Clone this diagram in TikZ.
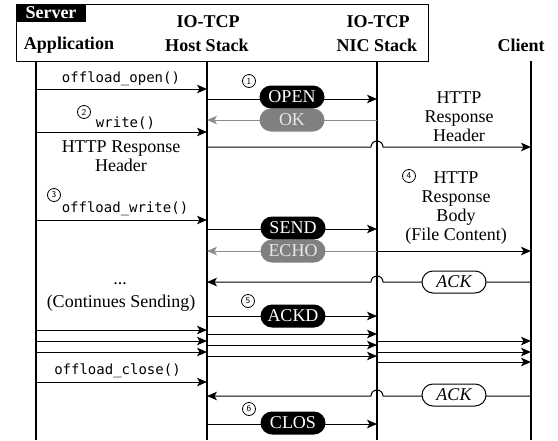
\documentclass[tikz,border=0pt]{standalone}
\usepackage{fontspec}
\setmainfont{Liberation Serif}
\setmonofont{DejaVu Sans Mono}
\usetikzlibrary{arrows.meta,calc}
\definecolor{pillgray}{HTML}{808080}
\definecolor{linegray}{HTML}{8C8C8C}
\definecolor{textgray}{HTML}{E8E8E8}
\begin{document}
\begin{tikzpicture}[x=1pt,y=-1pt,
  life/.style={line width=1.5pt},
  msg/.style={line width=1pt,-{Stealth[length=10pt,width=8.5pt,inset=2.5pt]}},
  gmsg/.style={msg,draw=linegray},
  pill/.style={fill=black,text=white,rounded corners=11.5pt,minimum width=65pt,minimum height=23pt,inner sep=0pt,font=\fontsize{18}{18}\selectfont},
  gpill/.style={pill,fill=pillgray,text=textgray},
  ackbox/.style={draw,line width=1pt,fill=white,rounded corners=11pt,minimum width=64pt,minimum height=22pt,inner sep=0pt,font=\itshape\fontsize{18}{18}\selectfont},
  num/.style={circle,draw,line width=0.8pt,minimum size=13pt,inner sep=0pt,font=\sffamily\fontsize{9}{9}\selectfont},
  code/.style={font=\ttfamily\fontsize{14}{14}\selectfont,inner sep=0pt},
  txt/.style={font=\fontsize{18}{19}\selectfont,align=center,inner sep=0pt},
  hdr/.style={font=\bfseries\fontsize{18}{18}\selectfont,inner sep=0pt},
]
\useasboundingbox (0,0) rectangle (558,440);

% header
\draw[line width=1pt] (16,4) rectangle (428,61);
\fill[black] (16,4) rectangle (86,22);
\node[hdr,text=white] (server) at (51,13) {Server};
\node[hdr] (app) at (69,45) {Application};
\node[hdr] (hosttcp) at (208,22) {IO-TCP};
\node[hdr] (host) at (207,45) {Host Stack};
\node[hdr] (nictcp) at (378,22) {IO-TCP};
\node[hdr] (nic) at (377,45) {NIC Stack};
\node[hdr] (client) at (521,45) {Client};

% lifelines
\coordinate (Atop) at (36,61);  \coordinate (Abot) at (36,440);
\coordinate (Htop) at (207,61); \coordinate (Hbot) at (207,440);
\coordinate (Ntop) at (377,61); \coordinate (Nbot) at (377,440);
\coordinate (Ctop) at (531,61); \coordinate (Cbot) at (531,440);
\draw[life] (Atop) -- (Abot);
\draw[life] (Htop) -- (Hbot);
\draw[life] (Ntop) -- (Nbot);
\draw[life] (Ctop) -- (Cbot);

% row coordinates
\foreach \n/\y in {oc/89,op/99,ok/120,wr/132,hd/147,ow/220,se/229,ec/251,ka/282,kd/316,
                   a1/330,a2/341,a3/352,h1/334,h2/345,h3/356,n1/341,n2/352,n3/362,
                   cl/382,kb/396,cs/424}{
  \coordinate (A\n) at (36,\y);
  \coordinate (H\n) at (207,\y);
  \coordinate (N\n) at (377,\y);
  \coordinate (C\n) at (531,\y);
}

% 1 open
\draw[msg] (Aoc) -- (Hoc);
\node[code] (t-open) at (121,79) {offload\_open()};
\draw[msg] (Hop) -- (Nop);
\node[pill] (open) at (292,97) {OPEN};
\node[num] (n1) at (249,81) {1};
\draw[gmsg] (Nok) -- (Hok);
\node[gpill] (ok) at (292,120) {OK};

% 2 write
\node[num] (n2) at (84,112) {2};
\node[code] (t-write) at (125.5,123) {write()};
\draw[msg] (Awr) -- (Hwr);
\node[txt] (hdrL) at (121,156) {HTTP Response\\Header};
\draw[msg] (Hhd) -- ($(Nhd)+(-6,0)$) arc[start angle=180,end angle=0,radius=6pt] -- (Chd);
\node[txt] (hdrR) at (459,117) {HTTP\\Response\\Header};

% 3 offload_write
\node[num] (n3) at (54,195) {3};
\node[code] (t-owrite) at (125,209) {offload\_write()};
\draw[msg] (Aow) -- (How);
\draw[msg] (Hse) -- (Nse);
\node[pill] (send) at (293,228) {SEND};
\draw[gmsg] (Nec) -- (Hec);
\draw[msg] (Nec) -- (Cec);
\node[gpill] (echo) at (293,251) {ECHO};

% 4 body
\node[num] (n4) at (409,176) {4};
\node[txt] (body) at (456,208.5) {HTTP\\Response\\Body\\(File Content)};

% ack 1
\draw[msg] (Cka) -- ($(Nka)+(6,0)$) arc[start angle=0,end angle=180,radius=6pt] -- (Hka);
\node[ackbox] (ack1) at (454,282) {ACK};

\node[txt] (dots) at (120,284) {...};
\node[txt] (cont) at (121,303) {(Continues Sending)};

% 5 ackd
\node[num] (n5) at (248,301) {5};
\draw[msg] (Hkd) -- (Nkd);
\node[pill] (ackd) at (293,316) {ACKD};

% continued sending
\foreach \i in {1,2,3}{
  \draw[msg] (Aa\i) -- (Ha\i);
  \draw[msg] (Hh\i) -- (Nh\i);
  \draw[msg] (Nn\i) -- (Cn\i);
}

% close
\node[code] (t-close) at (117.5,371) {offload\_close()};
\draw[msg] (Acl) -- (Hcl);
\draw[msg] (Ckb) -- ($(Nkb)+(6,0)$) arc[start angle=0,end angle=180,radius=6pt] -- (Hkb);
\node[ackbox] (ack2) at (454,395) {ACK};

% 6 clos
\node[num] (n6) at (249,409) {6};
\draw[msg] (Hcs) -- (Ncs);
\node[pill] (clos) at (293,423) {CLOS};
\end{tikzpicture}
\end{document}
